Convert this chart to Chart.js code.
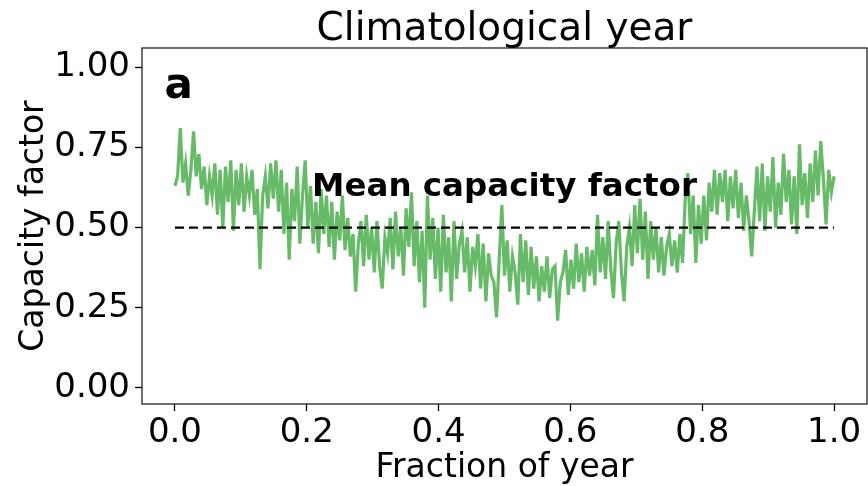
<!DOCTYPE html>
<html lang="en">
<head>
<meta charset="utf-8">
<script src="https://cdn.jsdelivr.net/npm/chart.js@4"></script>
<style>
  body { margin: 0; background: #fff; }
  canvas { display: block; }
</style>
</head>
<body>
<canvas id="cf" width="868" height="486"></canvas>
<script>
// daily capacity factor over the climatological year
var capacityFactor = [
  0.63, 0.66, 0.81, 0.64, 0.70, 0.60, 0.68, 0.80, 0.66, 0.73,
  0.62, 0.69, 0.57, 0.66, 0.60, 0.70, 0.54, 0.68, 0.50, 0.69,
  0.58, 0.71, 0.49, 0.68, 0.57, 0.70, 0.55, 0.66, 0.60, 0.68,
  0.54, 0.62, 0.37, 0.60, 0.66, 0.56,
  0.70, 0.59, 0.71, 0.55, 0.68, 0.48, 0.64, 0.40, 0.62, 0.52,
  0.69, 0.45, 0.60, 0.71, 0.50, 0.63, 0.45, 0.58, 0.42, 0.62,
  0.48, 0.60, 0.44, 0.58, 0.40, 0.55, 0.46, 0.60, 0.43, 0.53,
  0.41, 0.48, 0.30, 0.45, 0.52, 0.38,
  0.54, 0.40, 0.50, 0.36, 0.52, 0.38, 0.31, 0.47, 0.42, 0.53,
  0.37, 0.55, 0.41, 0.50, 0.35, 0.56, 0.44, 0.61, 0.38, 0.52,
  0.33, 0.49, 0.25, 0.60, 0.40, 0.53, 0.34, 0.50, 0.30, 0.54,
  0.36, 0.47, 0.27, 0.52, 0.34, 0.45,
  0.49, 0.36, 0.47, 0.30, 0.44, 0.38, 0.48, 0.31, 0.45, 0.27,
  0.42, 0.35, 0.33, 0.22, 0.40, 0.57, 0.35, 0.46, 0.30, 0.41,
  0.36, 0.26, 0.48, 0.33, 0.46, 0.29, 0.44, 0.31, 0.41, 0.27,
  0.38, 0.30, 0.41, 0.28, 0.37, 0.38,
  0.21, 0.33, 0.36, 0.43, 0.29, 0.40, 0.31, 0.45, 0.33, 0.42,
  0.30, 0.44, 0.35, 0.43, 0.32, 0.54, 0.36, 0.47, 0.34, 0.52,
  0.37, 0.28, 0.45, 0.52, 0.36, 0.27, 0.44, 0.50, 0.38, 0.57,
  0.42, 0.59, 0.40, 0.55, 0.34, 0.52,
  0.40, 0.50, 0.36, 0.47, 0.35, 0.44, 0.48, 0.38, 0.46, 0.36,
  0.48, 0.39, 0.59, 0.67, 0.48, 0.60, 0.39, 0.57, 0.45, 0.60,
  0.46, 0.64, 0.55, 0.68, 0.54, 0.67, 0.58, 0.68, 0.52, 0.66,
  0.56, 0.68, 0.53, 0.64, 0.49, 0.60,
  0.52, 0.41, 0.55, 0.69, 0.52, 0.70, 0.49, 0.66, 0.55, 0.72,
  0.50, 0.64, 0.54, 0.73, 0.58, 0.68, 0.51, 0.66, 0.48, 0.76,
  0.57, 0.67, 0.53, 0.70, 0.58, 0.74, 0.60, 0.77, 0.65, 0.51,
  0.68, 0.61, 0.66
];
var meanCapacityFactor = 0.5;
var xTicks = [0.0, 0.2, 0.4, 0.6, 0.8, 1.0];
var yTicks = [0.0, 0.25, 0.5, 0.75, 1.0];
var titleText = "Climatological year";
var panelLetter = "a";
var meanLabel = "Mean capacity factor";

var FONT = "'DejaVu Sans', sans-serif";

var n = capacityFactor.length;
var linePoints = capacityFactor.map(function(v, i) { return { x: i / (n - 1), y: v }; });
var meanPoints = [{ x: 0, y: meanCapacityFactor }, { x: 1, y: meanCapacityFactor }];

// frame, title and the two text labels (matplotlib-style extras)
var extras = {
  id: "extras",
  afterDraw: function(chart) {
    var ctx = chart.ctx, a = chart.chartArea;
    var xs = chart.scales.x, ys = chart.scales.y;
    ctx.save();
    ctx.strokeStyle = "#222";
    ctx.lineWidth = 1.3;
    ctx.strokeRect(a.left, a.top, a.right - a.left, a.bottom - a.top);

    ctx.fillStyle = "#000";
    ctx.textAlign = "center";
    ctx.textBaseline = "alphabetic";
    ctx.font = "39px " + FONT;
    ctx.fillText(titleText, (a.left + a.right) / 2, 40);

    ctx.font = "bold 32.5px " + FONT;
    ctx.fillText(meanLabel, xs.getPixelForValue(0.5), ys.getPixelForValue(0.6));

    ctx.textAlign = "left";
    ctx.font = "bold 42px " + FONT;
    ctx.fillText(panelLetter, xs.getPixelForValue(-0.016), ys.getPixelForValue(0.905));
    ctx.restore();
  }
};

new Chart(document.getElementById("cf"), {
  type: "line",
  data: {
    datasets: [
      {
        data: linePoints,
        borderColor: "rgba(44,160,44,0.72)",
        borderWidth: 3.2,
        pointRadius: 0,
        tension: 0,
        order: 2
      },
      {
        data: meanPoints,
        borderColor: "#000",
        borderWidth: 2.2,
        borderDash: [9, 5],
        pointRadius: 0,
        order: 1
      }
    ]
  },
  options: {
    responsive: false,
    animation: false,
    events: [],
    layout: { padding: { top: 48, right: 1, left: 0, bottom: 0 } },
    plugins: { legend: { display: false }, tooltip: { enabled: false } },
    scales: {
      x: {
        type: "linear",
        min: -0.05,
        max: 1.05,
        afterFit: function(s) { s.height = 82; },
        afterBuildTicks: function(s) { s.ticks = xTicks.map(function(v) { return { value: v }; }); },
        grid: { drawOnChartArea: false, drawTicks: true, tickLength: 7, tickWidth: 1.3, tickColor: "#000" },
        border: { display: false },
        ticks: {
          color: "#000", padding: 2, maxRotation: 0, autoSkip: false,
          font: { family: FONT, size: 34 },
          callback: function(v) { return Number(v).toFixed(1); }
        },
        title: {
          display: true, text: "Fraction of year", color: "#000",
          font: { family: FONT, size: 33 }, padding: { top: 0, bottom: -2 }
        }
      },
      y: {
        type: "linear",
        min: -0.05,
        max: 1.06,
        afterFit: function(s) { s.width = 142; },
        afterBuildTicks: function(s) { s.ticks = yTicks.map(function(v) { return { value: v }; }); },
        grid: { drawOnChartArea: false, drawTicks: true, tickLength: 7, tickWidth: 1.3, tickColor: "#000" },
        border: { display: false },
        ticks: {
          color: "#000", padding: 5, autoSkip: false,
          font: { family: FONT, size: 34 },
          callback: function(v) { return Number(v).toFixed(2); }
        },
        title: {
          display: true, text: "Capacity factor", color: "#000",
          font: { family: FONT, size: 33 }, padding: { top: 15, bottom: 0 }
        }
      }
    }
  },
  plugins: [extras]
});
</script>
</body>
</html>
